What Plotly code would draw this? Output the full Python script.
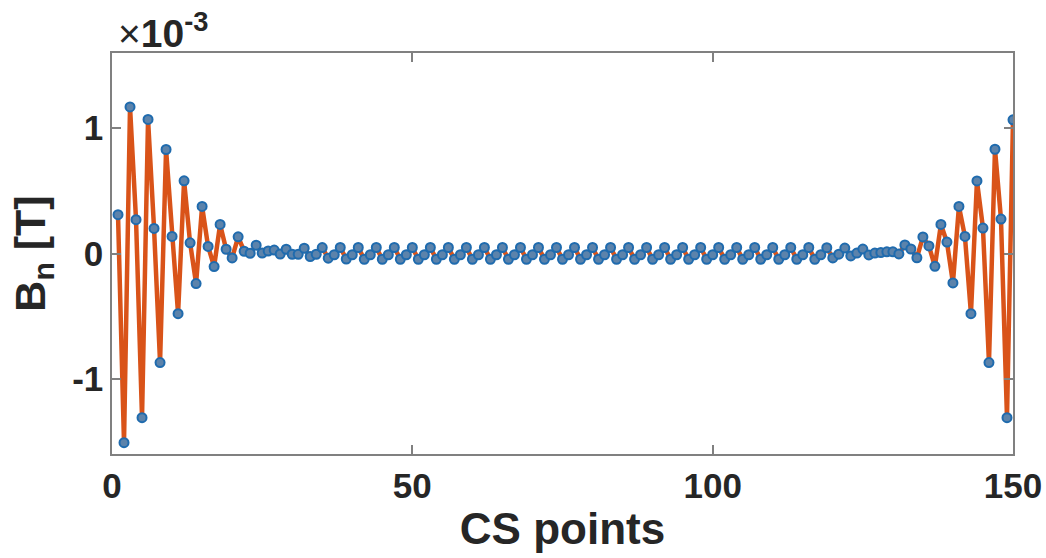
import plotly.graph_objects as go

# CS point index
cs_points = list(range(1, 151))

# B_n values in units of 1e-3 T
bn_milli = [
    0.31, -1.51, 1.17, 0.27, -1.31, 1.07, 0.20, -0.87, 0.83, 0.136,
    -0.48, 0.58, 0.085, -0.24, 0.376, 0.056, -0.104, 0.232, 0.034, -0.035,
    0.133, 0.018, 0.002, 0.066, 0.004, 0.020, 0.027, -0.004, 0.034, -0.006,
    -0.006, 0.042, -0.024, -0.006, 0.047, -0.037, -0.010, 0.048, -0.044, -0.010,
    0.048, -0.046, -0.010, 0.048, -0.046, -0.010, 0.048, -0.046, -0.010, 0.048,
    -0.046, -0.010, 0.048, -0.046, -0.010, 0.048, -0.046, -0.010, 0.048, -0.046,
    -0.010, 0.048, -0.046, -0.010, 0.048, -0.046, -0.010, 0.048, -0.046, -0.010,
    0.048, -0.046, -0.010, 0.048, -0.046, -0.010, 0.048, -0.046, -0.010, 0.048,
    -0.046, -0.010, 0.048, -0.046, -0.010, 0.048, -0.046, -0.010, 0.048, -0.046,
    -0.010, 0.048, -0.046, -0.010, 0.048, -0.046, -0.010, 0.048, -0.046, -0.010,
    0.048, -0.046, -0.010, 0.048, -0.046, -0.010, 0.048, -0.046, -0.010, 0.048,
    -0.046, -0.010, 0.048, -0.046, -0.010, 0.048, -0.046, -0.010, 0.046, -0.035,
    -0.005, 0.043, -0.019, 0.003, 0.035, -0.011, 0.003, 0.008, 0.013, 0.013,
    -0.003, 0.068, 0.036, -0.034, 0.132, 0.060, -0.102, 0.232, 0.091, -0.235,
    0.376, 0.136, -0.48, 0.579, 0.203, -0.87, 0.832, 0.275, -1.31, 1.067,
]

x_ticks = [0, 50, 100, 150]
y_ticks = [-1, 0, 1]
y_tick_labels = ["-1", "0", "1"]

FONT = "Liberation Sans, Arial, sans-serif"
TXT = "#262626"
AXC = "#808080"

fig = go.Figure()
fig.add_trace(go.Scatter(
    x=cs_points, y=bn_milli, mode="lines",
    line=dict(color="#D95319", width=4.5),
    hoverinfo="skip", showlegend=False,
))
fig.add_trace(go.Scatter(
    x=cs_points, y=bn_milli, mode="markers",
    marker=dict(symbol="circle", size=9, color="#5C83AB",
                line=dict(color="#1F6BAE", width=2)),
    showlegend=False,
))

axis_common = dict(
    showline=True, linecolor=AXC, linewidth=1.5, mirror="ticks",
    ticks="inside", ticklen=9, tickwidth=1.5, tickcolor=AXC,
    showgrid=False, zeroline=False, automargin=False,
    tickfont=dict(family=FONT, size=35, color=TXT, weight=700),
)

fig.update_layout(
    template="none",
    width=1046, height=558,
    margin=dict(l=112, r=33, t=53, b=104, autoexpand=False),
    paper_bgcolor="white", plot_bgcolor="white",
    xaxis=dict(range=[0, 150], tickvals=x_ticks,
               title=dict(text="CS points", standoff=9,
                          font=dict(family=FONT, size=44, color=TXT, weight=700)),
               **axis_common),
    yaxis=dict(range=[-1.6, 1.6], tickvals=y_ticks, ticktext=y_tick_labels,
               title=dict(text="B<sub>n</sub> [T]", standoff=13,
                          font=dict(family=FONT, size=43, color=TXT, weight=700)),
               **axis_common),
    annotations=[dict(
        text="<span style='font-weight:normal'>×</span>10<sup>-3</sup>",
        xref="paper", yref="paper", x=0.004, y=1.0,
        xanchor="left", yanchor="bottom", yshift=-4, showarrow=False,
        font=dict(family=FONT, size=39, color=TXT, weight=700),
    )],
)

fig.write_html("out.html")
